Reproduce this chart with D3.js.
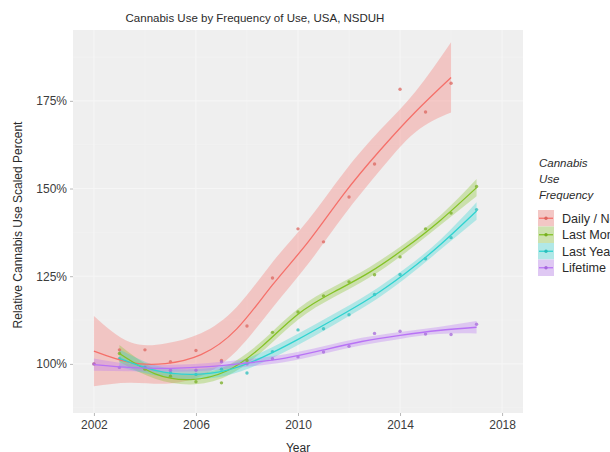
<!DOCTYPE html>
<html>
<head>
<meta charset="utf-8">
<script src="https://cdn.jsdelivr.net/npm/d3@7"></script>
<style>
  html, body { margin: 0; padding: 0; background: #ffffff; overflow: hidden; }
  svg { display: block; font-family: "Liberation Sans", Arial, sans-serif; }
</style>
</head>
<body>
<svg id="chart" width="610" height="452"></svg>
<script>
// NSDUH cannabis use, scaled so the first survey year is 100%
const years = d3.range(2002, 2018);
const dailyYears = d3.range(2002, 2017);
const dailyValues = [100, 104, 104, 100.6, 103.8, 101, 110.8, 124.5, 138.5, 134.8, 147.6, 157, 178.3, 171.8, 180];
const monthYears = d3.range(2003, 2018);
const monthValues = [103, 98.5, 96.5, 94.9, 94.6, 101, 109, 114.8, 119.4, 123.4, 125.4, 130.5, 138.5, 143, 150.6];
const yearYears = d3.range(2003, 2018);
const yearValues = [101.5, 99, 97.5, 97, 98.5, 97.4, 103.5, 109.7, 110, 114, 119.8, 125.5, 130, 136, 144];
const lifetimeValues = [100, 99, 99, 98.2, 98.2, 100.6, 100, 101.5, 102, 103.4, 105, 108.7, 109.3, 108.5, 108.4, 111.3];

const seriesNames = ["Daily / Near Daily", "Last Month", "Last Year", "Lifetime"];
const seriesColors = ["#F5706A", "#84C225", "#2FD3D0", "#B873F5"];
const xTicks = [2002, 2006, 2010, 2014, 2018];
const yTicks = [100, 125, 150, 175];

const series = [
  { name: seriesNames[0], x: dailyYears, y: dailyValues },
  { name: seriesNames[1], x: monthYears, y: monthValues },
  { name: seriesNames[2], x: yearYears, y: yearValues },
  { name: seriesNames[3], x: years, y: lifetimeValues }
];

// ---- local quadratic regression (loess, span 0.75, tricube weights) with standard errors
function solve3(A, b) {
  const M = A.map((r, i) => r.concat([b[i]]));
  for (let c = 0; c < 3; c++) {
    let p = c;
    for (let r = c + 1; r < 3; r++) if (Math.abs(M[r][c]) > Math.abs(M[p][c])) p = r;
    [M[c], M[p]] = [M[p], M[c]];
    for (let r = 0; r < 3; r++) {
      if (r === c) continue;
      const f = M[r][c] / M[c][c];
      for (let k = c; k < 4; k++) M[r][k] -= f * M[c][k];
    }
  }
  return M.map((r, i) => r[3] / r[i]);
}
function loessWeights(xs, x0, span) {
  const q = Math.floor(span * xs.length);
  const d = xs.map(x => Math.abs(x - x0)).sort((a, b) => a - b);
  const h = d[q - 1] * 1.0000001;
  const w = xs.map(x => { const u = Math.abs(x - x0) / h; return u < 1 ? Math.pow(1 - u * u * u, 3) : 0; });
  const A = [[0,0,0],[0,0,0],[0,0,0]];
  xs.forEach((x, i) => {
    const t = x - x0, v = [1, t, t * t];
    for (let a = 0; a < 3; a++) for (let b = 0; b < 3; b++) A[a][b] += w[i] * v[a] * v[b];
  });
  const z = solve3(A, [1, 0, 0]);
  return xs.map((x, i) => { const t = x - x0; return w[i] * (z[0] + z[1] * t + z[2] * t * t); });
}
// fit at a coarse set of vertices; the curve between them is drawn with a smooth spline
function loess(xs, ys, span, nOut) {
  const n = xs.length;
  const L = xs.map(x0 => loessWeights(xs, x0, span));
  const fitted = L.map(l => d3.sum(l, (li, i) => li * ys[i]));
  const rss = d3.sum(ys, (y, i) => (y - fitted[i]) ** 2);
  let oneDelta = 0;
  for (let j = 0; j < n; j++) for (let i = 0; i < n; i++) {
    const v = (i === j ? 1 : 0) - L[i][j];
    oneDelta += v * v;
  }
  const sigma = Math.sqrt(rss / oneDelta);
  const tq = 2.2;
  const grid = d3.range(nOut).map(k => xs[0] + (xs[n - 1] - xs[0]) * k / (nOut - 1));
  return grid.map(x0 => {
    const l = loessWeights(xs, x0, span);
    const fit = d3.sum(l, (li, i) => li * ys[i]);
    const se = sigma * Math.sqrt(d3.sum(l, li => li * li));
    return { x: x0, y: fit, lo: fit - tq * se, hi: fit + tq * se };
  });
}

// ---- layout
const svg = d3.select("#chart");
const panel = { left: 73, right: 523, top: 30, bottom: 413 };
const x = d3.scaleLinear().domain([2001.18, 2018.82]).range([panel.left, panel.right]);
const y = d3.scaleLinear().domain([86, 195.2]).range([panel.bottom, panel.top]);
const color = d3.scaleOrdinal().domain(seriesNames).range(seriesColors);

// panel background and grid
svg.append("rect")
  .attr("x", panel.left).attr("y", panel.top)
  .attr("width", panel.right - panel.left).attr("height", panel.bottom - panel.top)
  .attr("fill", "#EFEFEF");
const grid = svg.append("g");
const yMinor = [87.5, 112.5, 137.5, 162.5, 187.5];
const xMinor = [2004, 2008, 2012, 2016];
grid.selectAll(".ymin").data(yMinor).join("line")
  .attr("x1", panel.left).attr("x2", panel.right)
  .attr("y1", d => y(d)).attr("y2", d => y(d))
  .attr("stroke", "#F3F3F3").attr("stroke-width", 0.6);
grid.selectAll(".xmin").data(xMinor).join("line")
  .attr("y1", panel.top).attr("y2", panel.bottom)
  .attr("x1", d => x(d)).attr("x2", d => x(d))
  .attr("stroke", "#F3F3F3").attr("stroke-width", 0.6);
grid.selectAll(".ymaj").data(yTicks).join("line")
  .attr("x1", panel.left).attr("x2", panel.right)
  .attr("y1", d => y(d)).attr("y2", d => y(d))
  .attr("stroke", "#F6F6F6").attr("stroke-width", 1.1);
grid.selectAll(".xmaj").data(xTicks).join("line")
  .attr("y1", panel.top).attr("y2", panel.bottom)
  .attr("x1", d => x(d)).attr("x2", d => x(d))
  .attr("stroke", "#F6F6F6").attr("stroke-width", 1.1);

// smoothed curves with confidence bands
const fits = series.map(s => ({ name: s.name, pts: loess(s.x, s.y, 0.75, 11) }));
const area = d3.area().x(d => x(d.x)).y0(d => y(d.lo)).y1(d => y(d.hi)).curve(d3.curveNatural);
const line = d3.line().x(d => x(d.x)).y(d => y(d.y)).curve(d3.curveNatural);

svg.append("g").selectAll("path").data(fits).join("path")
  .attr("d", d => area(d.pts))
  .attr("fill", d => color(d.name)).attr("fill-opacity", 0.33);

svg.append("g").selectAll("circle")
  .data(series.flatMap(s => s.x.map((xx, i) => ({ name: s.name, x: xx, y: s.y[i] }))))
  .join("circle")
  .attr("cx", d => x(d.x)).attr("cy", d => y(d.y)).attr("r", 1.7)
  .attr("fill", d => d3.color(color(d.name)).darker(0.3)).attr("fill-opacity", 0.75);

svg.append("g").selectAll("path").data(fits).join("path")
  .attr("d", d => line(d.pts))
  .attr("fill", "none").attr("stroke", d => color(d.name)).attr("stroke-width", 1.3);

// axes
const xAxis = svg.append("g").attr("transform", `translate(0,${panel.bottom})`)
  .call(d3.axisBottom(x).tickValues(xTicks).tickFormat(d3.format("d")).tickSize(3).tickPadding(4));
const yAxis = svg.append("g").attr("transform", `translate(${panel.left},0)`)
  .call(d3.axisLeft(y).tickValues(yTicks).tickFormat(d => d + "%").tickSize(3).tickPadding(3));
[xAxis, yAxis].forEach(a => {
  a.select(".domain").remove();
  a.selectAll(".tick line").attr("stroke", "#B8B8B8");
  a.selectAll(".tick text").attr("fill", "#3C3C3C")
    .style("font-size", "12px").style("font-family", "'Liberation Sans', Arial, sans-serif");
});

// titles
svg.append("text").attr("x", 255).attr("y", 22).attr("text-anchor", "middle")
  .attr("fill", "#2B2B2B").style("font-size", "11.5px")
  .text("Cannabis Use by Frequency of Use, USA, NSDUH");
svg.append("text").attr("x", 298).attr("y", 452).attr("text-anchor", "middle")
  .attr("fill", "#2B2B2B").style("font-size", "12px").text("Year");
svg.append("text").attr("transform", "translate(22,225) rotate(-90)").attr("text-anchor", "middle")
  .attr("fill", "#2B2B2B").style("font-size", "12px").text("Relative Cannabis Use Scaled Percent");

// legend
const legend = svg.append("g").attr("transform", "translate(538,0)");
legend.selectAll(".lt").data(["Cannabis", "Use", "Frequency"]).join("text")
  .attr("x", 1).attr("y", (d, i) => 167 + i * 16)
  .attr("fill", "#2B2B2B").style("font-size", "11.5px").style("font-style", "italic")
  .text(d => d);
const keys = legend.selectAll(".key").data(seriesNames).join("g")
  .attr("transform", (d, i) => `translate(0,${210 + i * 16.5})`);
keys.append("rect").attr("width", 16).attr("height", 16.5).attr("fill", "#F2F2F2");
keys.append("rect").attr("width", 16).attr("height", 16.5)
  .attr("fill", d => color(d)).attr("fill-opacity", 0.33);
keys.append("line").attr("x1", 1).attr("x2", 15).attr("y1", 8.25).attr("y2", 8.25)
  .attr("stroke", d => color(d)).attr("stroke-width", 1.3);
keys.append("circle").attr("cx", 8).attr("cy", 8.25).attr("r", 1.7)
  .attr("fill", d => d3.color(color(d)).darker(0.3));
keys.append("text").attr("x", 24).attr("y", 12.7)
  .attr("fill", "#2B2B2B").style("font-size", "12.6px").text(d => d);
</script>
</body>
</html>
